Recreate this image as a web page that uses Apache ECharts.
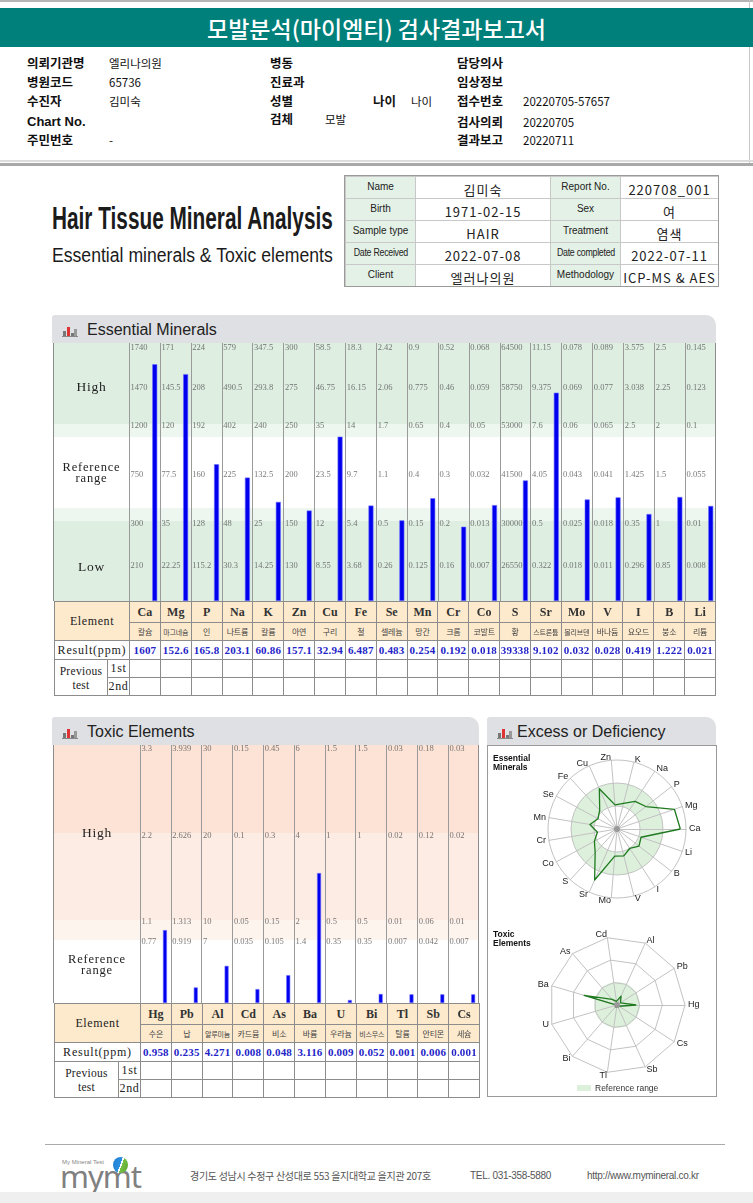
<!DOCTYPE html>
<html><head><meta charset="utf-8">
<script src="https://cdn.jsdelivr.net/npm/echarts@6/dist/echarts.min.js"></script>
<style>
html,body{margin:0;padding:0;}
body{width:753px;height:1203px;position:relative;overflow:hidden;background:#fff;font-family:"Noto Sans CJK KR","Noto Sans",sans-serif;color:#111;}
.abs{position:absolute;}
.cell{position:absolute;box-sizing:border-box;border:1px solid #8c8c8c;display:flex;align-items:center;justify-content:center;text-align:center;overflow:hidden;white-space:nowrap;}
.ph{position:absolute;background:#dfe0e3;border-radius:3px 10px 0 0;font-family:"Liberation Sans",Arial,sans-serif;font-size:16px;color:#222;}
</style></head>
<body>
<div id="ess" class="abs" style="left:54px;top:343px;width:662px;height:258px"></div>
<div id="tox" class="abs" style="left:54px;top:745px;width:425px;height:258px"></div>
<div id="rad" class="abs" style="left:487px;top:745px;width:230px;height:352px"></div>
<script>
// ---------------- DATA ----------------
const essElements = ['Ca','Mg','P','Na','K','Zn','Cu','Fe','Se','Mn','Cr','Co','S','Sr','Mo','V','I','B','Li'];
const essKorean = ['칼슘','마그네슘','인','나트륨','칼륨','아연','구리','철','셀레늄','망간','크롬','코발트','황','스트론튬','몰리브덴','바나듐','요오드','붕소','리튬'];
const essResults = [1607,152.6,165.8,203.1,60.86,157.1,32.94,6.487,0.483,0.254,0.192,0.018,39338,9.102,0.032,0.028,0.419,1.222,0.021];
const essTicks = [
  [1740,1470,1200,750,300,210],
  [171,145.5,120,77.5,35,22.25],
  [224,208,192,160,128,115.2],
  [579,490.5,402,225,48,30.3],
  [347.5,293.8,240,132.5,25,14.25],
  [300,275,250,200,150,130],
  [58.5,46.75,35,23.5,12,8.55],
  [18.3,16.15,14,9.7,5.4,3.68],
  [2.42,2.06,1.7,1.1,0.5,0.26],
  [0.9,0.775,0.65,0.4,0.15,0.125],
  [0.52,0.46,0.4,0.3,0.2,0.16],
  [0.068,0.059,0.05,0.032,0.013,0.007],
  [64500,58750,53000,41500,30000,26550],
  [11.15,9.375,7.6,4.05,0.5,0.322],
  [0.078,0.069,0.06,0.043,0.025,0.018],
  [0.089,0.077,0.065,0.041,0.018,0.011],
  [3.575,3.038,2.5,1.425,0.35,0.296],
  [2.5,2.25,2,1.5,1,0.85],
  [0.145,0.123,0.1,0.055,0.01,0.008]
];
const toxElements = ['Hg','Pb','Al','Cd','As','Ba','U','Bi','Tl','Sb','Cs'];
const toxKorean = ['수은','납','알루미늄','카드뮴','비소','바륨','우라늄','비스무스','탈륨','안티몬','세슘'];
const toxResults = [0.958,0.235,4.271,0.008,0.048,3.116,0.009,0.052,0.001,0.006,0.001];
const toxTicks = [
  [3.3,2.2,1.1,0.77],
  [3.939,2.626,1.313,0.919],
  [30,20,10,7],
  [0.15,0.1,0.05,0.035],
  [0.45,0.3,0.15,0.105],
  [6,4,2,1.4],
  [1.5,1,0.5,0.35],
  [1.5,1,0.5,0.35],
  [0.03,0.02,0.01,0.007],
  [0.18,0.12,0.06,0.042],
  [0.03,0.02,0.01,0.007]
];
// ---------------- SCALE (per-element piecewise band scale) ----------------
const essTickPos = [1, 0.833, 0.667, 0.5, 0.326, 0.136];
const essLabelPos = [0.981, 0.826, 0.678, 0.488, 0.298, 0.136];
const toxTickPos = [1, 0.651, 0.318, 0.236];
const toxLabelPos = [0.984, 0.647, 0.314, 0.236];
function level(v, ticks, pos){
  const t = ticks.concat([0]), p = pos.concat([0]);
  if (v >= t[0]) return p[0];
  for (let j = 0; j < t.length-1; j++){
    if (v >= t[j+1]) return p[j+1] + (v - t[j+1])/(t[j]-t[j+1])*(p[j]-p[j+1]);
  }
  return 0;
}

// ---------------- HTML helpers ----------------
function txt(x,y,s,css,w,align){
  const d=document.createElement('div'); d.className='abs'; d.textContent=s;
  d.style.cssText += 'left:'+x+'px;top:'+(y-10)+'px;height:20px;line-height:20px;white-space:nowrap;'+(w?('width:'+w+'px;text-align:'+(align||'center')+';'):'')+(css||'');
  document.body.appendChild(d); return d;
}
function box(x,y,w,h,css){
  const d=document.createElement('div'); d.className='abs';
  d.style.cssText += 'left:'+x+'px;top:'+y+'px;width:'+w+'px;height:'+h+'px;'+(css||'');
  document.body.appendChild(d); return d;
}
function cell(x,y,w,h,html,css){
  const d=document.createElement('div'); d.className='cell';
  d.style.cssText += 'left:'+x+'px;top:'+y+'px;width:'+(w+1)+'px;height:'+(h+1)+'px;'+(css||'');
  d.innerHTML=html; document.body.appendChild(d); return d;
}

// ---------------- Header ----------------
box(0,0,753,2,'background:#b5b5b5');
box(749,0,1,166,'background:#c8c8c8');
box(0,8,753,39,'background:#00807a');
txt(0,27.5,'모발분석(마이엠티) 검사결과보고서','color:#fff;font-size:23px;font-weight:500;',753);
const L='font-size:12.5px;font-weight:700;', V='font-size:11.5px;';
txt(27,63,'의뢰기관명',L); txt(109,63,'엘리나의원',V); txt(270,63,'병동',L); txt(457,63,'담당의사',L);
txt(27,82,'병원코드',L); txt(109,82,'65736',V); txt(270,82,'진료과',L); txt(457,82,'임상정보',L);
txt(27,101,'수진자',L); txt(109,101,'김미숙',V); txt(270,101,'성별',L); txt(373,101,'나이',L); txt(411,101,'나이',V); txt(457,101,'접수번호',L); txt(523,101,'20220705-57657',V);
txt(27,122,'Chart No.',L+'font-family:"Liberation Sans",Arial,sans-serif;font-size:13px;'); txt(270,119,'검체',L); txt(325,119,'모발',V); txt(457,122,'검사의뢰',L); txt(523,122,'20220705',V);
txt(27,140,'주민번호',L); txt(109,140,'-',V); txt(457,140,'결과보고',L); txt(523,140,'20220711',V);
box(0,160,753,2,'background:#dcdcdc'); box(0,163,753,3,'background:#a8a8a8');

// ---------------- Title block ----------------
const t1=txt(52,219,'Hair Tissue Mineral Analysis','font-family:"Liberation Sans",Arial,sans-serif;font-weight:700;font-size:31px;height:34px;line-height:34px;top:202px;transform-origin:0 50%;color:#1b1b1b;');
const t2=txt(52,255,'Essential minerals & Toxic elements','font-family:"Liberation Sans",Arial,sans-serif;font-size:19.5px;transform-origin:0 50%;color:#1b1b1b;');
[[t1,281],[t2,281]].forEach(([el,w])=>{const s=w/el.scrollWidth; el.style.transform='scaleX('+s+')';});

// info table
const infoRows=[['Name','김미숙','Report No.','220708_001'],['Birth','1971-02-15','Sex','여'],['Sample type','HAIR','Treatment','염색'],['Date Received','2022-07-08','Date completed','2022-07-11'],['Client','엘러나의원','Methodology','ICP-MS & AES']];
const icx=[345,415,550,620,718];
infoRows.forEach((r,ri)=>{
  const y=176+ri*22;
  for(let c=0;c<4;c++){
    const isL=(c%2===0);
    const d=cell(icx[c],y,icx[c+1]-icx[c],22,'',(isL?'background:#e4f1e6;':'background:#fff;')+'border-color:#c8c8c8;');
    const s=document.createElement('span'); s.textContent=r[c];
    if(isL){
      s.style.cssText='font-family:"Liberation Sans",Arial,sans-serif;font-size:10px;color:#222;margin-top:-3px;display:inline-block;';
      d.appendChild(s);
      if(r[c].length>12){ s.style.transform='scaleX(0.88)'; s.style.letterSpacing='-0.3px'; }
    } else {
      s.style.cssText='font-size:13px;letter-spacing:1px;color:#222;margin-top:3px;';
      d.appendChild(s);
    }
  }
});
box(344,175,375,112,'border:1px solid #9a9a9a;box-sizing:border-box;');

// ---------------- Panel headers ----------------
function panelHeader(x,y,w,title,tx){
  const d=box(x,y,w,28,''); d.className='ph';
  [[0,5,'#777'],[4,9,'#d33'],[8,3,'#777'],[11,7,'#999']].forEach(([ox,h,c])=>box(x+11+ox,y+21-h,2.5,h,'background:'+c));
  box(x+10,y+21,16,1,'background:#888');
  txt(tx,y+15,title,'font-family:"Liberation Sans",Arial,sans-serif;font-size:16px;color:#222;');
}
panelHeader(52,315,664,'Essential Minerals',87);
panelHeader(52,717,427,'Toxic Elements',87);
panelHeader(487,717,229,'Excess or Deficiency',517);

// chart borders
box(53,343,1,258,'background:#8c8c8c'); box(715,343,1,258,'background:#8c8c8c');
box(53,745,1,258,'background:#8c8c8c'); box(478,745,1,258,'background:#8c8c8c');

// ---------------- Tables ----------------
function buildTable(x0,labelW,colW,top,syms,kors,results){
  const rh=[21,18,19,18,18]; const ys=[top]; rh.forEach(h=>ys.push(ys[ys.length-1]+h));
  const peach='background:#fdeacd;';
  const lab='font-family:"Liberation Serif","DejaVu Serif",serif;font-size:12px;color:#222;letter-spacing:0.6px;';
  cell(x0,ys[0],labelW,ys[2]-ys[0],'Element',peach+lab);
  cell(x0,ys[2],labelW,rh[2],'Result(ppm)',lab+'letter-spacing:0.8px;');
  const sw=labelW-22;
  cell(x0,ys[3],sw,ys[5]-ys[3],'<div style="line-height:14px">Previous<br>test</div>',lab+'font-size:11.5px;letter-spacing:0.3px;');
  cell(x0+sw,ys[3],22,rh[3],'1st',lab);
  cell(x0+sw,ys[4],22,rh[4],'2nd',lab);
  syms.forEach((s,i)=>{
    const cx=x0+labelW+i*colW;
    cell(cx,ys[0],colW,rh[0],s,peach+'font-family:"Liberation Serif","DejaVu Serif",serif;font-weight:700;font-size:12px;color:#333;');
    cell(cx,ys[1],colW,rh[1],kors[i],peach+'font-size:'+(kors[i].length>=4?'7px':'8px')+';color:#444;letter-spacing:-0.2px;');
    cell(cx,ys[2],colW,rh[2],String(results[i]),'font-family:"Liberation Serif","DejaVu Serif",serif;font-weight:700;font-size:11px;color:#2323c8;letter-spacing:0.2px;');
    cell(cx,ys[3],colW,rh[3],'');
    cell(cx,ys[4],colW,rh[4],'');
  });
}
buildTable(54,75,30.842,601,essElements,essKorean,essResults);
buildTable(54,86,30.82,1003,toxElements,toxKorean,toxResults);

// chart left-column labels
const sl='font-family:"Liberation Serif","DejaVu Serif",serif;color:#222;letter-spacing:0.8px;';
txt(54,387,'High',sl+'font-size:13.5px;',75);
txt(54,471,'Reference',sl+'font-size:12.5px;line-height:12px;',75); txt(54,482,'range',sl+'font-size:12.5px;line-height:12px;',75);
txt(54,567,'Low',sl+'font-size:13.5px;',75);
txt(54,833,'High',sl+'font-size:13.5px;',86);
txt(54,959,'Reference',sl+'font-size:12.5px;',86); txt(54,970,'range',sl+'font-size:12.5px;',86);

// radar panel
box(487,745,230,352,'border:1px solid #9a9a9a;box-sizing:border-box;');
txt(493,758,'Essential','font-family:"Liberation Sans",Arial,sans-serif;font-weight:700;font-size:8.5px;');
txt(493,767,'Minerals','font-family:"Liberation Sans",Arial,sans-serif;font-weight:700;font-size:8.5px;');
txt(493,934,'Toxic','font-family:"Liberation Sans",Arial,sans-serif;font-weight:700;font-size:8.5px;');
txt(493,943,'Elements','font-family:"Liberation Sans",Arial,sans-serif;font-weight:700;font-size:8.5px;');
box(577,1085,14,6,'background:#dcf0dc');
txt(595,1088,'Reference range','font-family:"Liberation Sans",Arial,sans-serif;font-size:8.5px;color:#333;');

// footer
box(45,1144,680,1,'background:#aaa');
txt(62,1162,'My Mineral Test','font-family:"Liberation Sans",Arial,sans-serif;font-size:6px;color:#888;');
txt(60,1177,'mymt','font-family:"Noto Sans",sans-serif;font-size:31px;color:#808080;letter-spacing:-1px;height:34px;line-height:34px;top:1159px;');
box(113,1157,15,16,'border-radius:50%;background:linear-gradient(110deg,#1f7fd0 0%,#2b8ee0 48%,#fff 48%,#fff 56%,#78c043 56%,#5aa532 100%);');
const ft='font-size:10px;color:#555;letter-spacing:-0.3px;';
txt(190,1176,'경기도 성남시 수정구 산성대로 553 을지대학교 을지관 207호',ft);
txt(470,1176,'TEL. 031-358-5880','font-family:"Liberation Sans",Arial,sans-serif;'+ft);
txt(587,1176,'http://www.mymineral.co.kr','font-family:"Liberation Sans",Arial,sans-serif;'+ft);
box(0,1192,753,11,'background:#efefef');

// ---------------- ECharts: bar panels ----------------
function barOption(ticks,results,tickPos,labelPos,leftCols,n,bands,barOff,barW){
  const lines=[]; for(let i=0;i<=n;i++) lines.push({xAxis:i});
  const lbl=[]; ticks.forEach((tk,i)=>tk.forEach((v,j)=>lbl.push([i+0.03,labelPos[j],String(v)])));
  return {
    animation:false,
    grid:{left:0,right:0,top:0,bottom:0},
    xAxis:{type:'value',min:-leftCols,max:n,show:false},
    yAxis:{type:'value',min:0,max:1,show:false},
    series:[
      {type:'scatter',z:1,symbolSize:1,silent:true,itemStyle:{color:'rgba(0,0,0,0)'},data:lbl,
       label:{show:true,position:'right',distance:0,formatter:p=>p.data[2],fontSize:8.5,color:'#555',fontFamily:'Liberation Serif'},
       markArea:{silent:true,data:bands.map(b=>[{yAxis:b[0],itemStyle:{color:b[2]}},{yAxis:b[1]}])}},
      {type:'bar',z:3,silent:true,barWidth:barW,data:results.map((v,i)=>[i+barOff,level(v,ticks[i],tickPos)]),
       barMinHeight:3,itemStyle:{color:'#0000ee',borderColor:'#6f6fff',borderWidth:0.6},
       markLine:{silent:true,symbol:'none',label:{show:false},lineStyle:{color:'#9a9a9a',width:1,type:'solid'},data:lines}}
    ]
  };
}
const essChart=echarts.init(document.getElementById('ess'));
essChart.setOption(barOption(essTicks,essResults,essTickPos,essLabelPos,75/30.842,19,
  [[0.686,1,'#deefe2'],[0.636,0.686,'#edf6ef'],[0.31,0.36,'#edf6ef'],[0,0.31,'#deefe2']],0.83,5));
const toxChart=echarts.init(document.getElementById('tox'));
toxChart.setOption(barOption(toxTicks,toxResults,toxTickPos,toxLabelPos,86/30.82,11,
  [[0.659,1,'#fce3d6'],[0.322,0.659,'#fdece3'],[0.244,0.322,'#fef4ee']],0.81,4));

// ---------------- ECharts: radar panel ----------------
const radChart=echarts.init(document.getElementById('rad'));
const nameSt={color:'#222',fontSize:9,fontFamily:'Liberation Sans'};
radChart.setOption({
  animation:false,
  radar:[
    {center:[130,84],radius:69,startAngle:0,shape:'circle',splitNumber:3,nameGap:3,
     indicator:essElements.map(n=>({name:n,min:0,max:1})),axisName:nameSt,
     splitLine:{lineStyle:{color:'#c2c2c2',width:1}},
     splitArea:{show:true,areaStyle:{color:['rgba(0,0,0,0)','#dcf0dc','rgba(0,0,0,0)']}},
     axisLine:{lineStyle:{color:'#c2c2c2'}},axisTick:{show:false},axisLabel:{show:false}},
    {center:[130,260],radius:23,startAngle:0,shape:'circle',splitNumber:1,
     indicator:toxElements.map(n=>({name:'',min:0,max:1})),axisName:{show:false},
     splitLine:{show:false},axisLine:{show:false},
     splitArea:{show:true,areaStyle:{color:['#dcf0dc']}}},
    {center:[130,260],radius:68,startAngle:0,shape:'polygon',splitNumber:3,nameGap:3,
     indicator:toxElements.map(n=>({name:n,min:0,max:1})),axisName:nameSt,
     splitLine:{lineStyle:{color:'#c2c2c2',width:1}},splitArea:{show:false},
     axisLine:{lineStyle:{color:'#c2c2c2'}},axisTick:{show:false},axisLabel:{show:false}}
  ],
  series:[
    {type:'radar',radarIndex:0,symbol:'none',silent:true,lineStyle:{color:'#1f7a1f',width:1.3},
     data:[{value:essResults.map((v,i)=>level(v,essTicks[i],essTickPos))}]},
    {type:'radar',radarIndex:2,symbol:'none',silent:true,lineStyle:{color:'#1f7a1f',width:1.3},
     data:[{value:toxResults.map((v,i)=>level(v,toxTicks[i],toxTickPos))}]}
  ],
  graphic:[
    {type:'circle',shape:{cx:130,cy:84,r:3},style:{fill:'#999'},z:100},
    {type:'circle',shape:{cx:130,cy:260,r:3},style:{fill:'#999'},z:100}
  ]
});
</script>
</body></html>
